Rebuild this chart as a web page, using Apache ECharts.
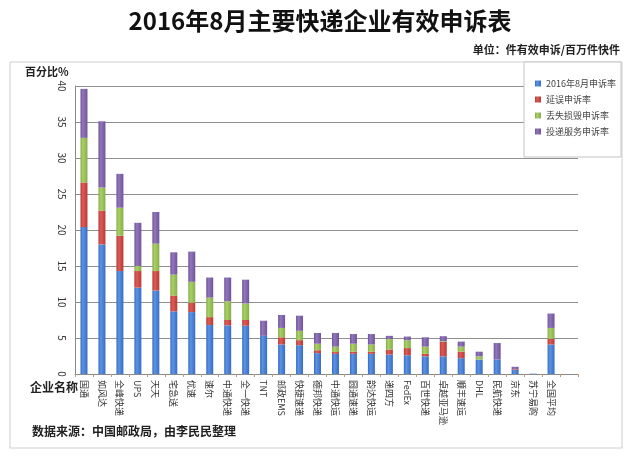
<!DOCTYPE html>
<html>
<head>
<meta charset="utf-8">
<script src="https://cdn.jsdelivr.net/npm/echarts@6/dist/echarts.min.js"></script>
<style>html,body{margin:0;padding:0;background:#fff;}#c{width:640px;height:458px;}</style>
</head>
<body>
<div id="c"></div>
<script>
var categories = ['国通','如风达','全峰快递','UPS','天天','宅急送','优速','速尔','中通快递','全一快递','TNT','邮政EMS','快捷速递','德邦快递','中通快运','圆通速递','韵达快运','递四方','FedEx','百世快递','卓越亚马逊','顺丰速运','DHL','民航快递','京东','苏宁易购','全国平均'];
var seriesNames = ['2016年8月申诉率','延误申诉率','丢失损毁申诉率','投递服务申诉率'];
var rateMain = [20.4,18.0,14.3,12.0,11.6,8.7,8.6,6.8,6.75,6.7,5.3,4.1,4.0,2.9,2.8,2.8,2.8,2.7,2.6,2.45,2.45,2.2,2.0,2.0,0.6,0.05,4.1];
var rateDelay = [6.2,4.7,4.9,2.3,2.7,2.2,1.3,1.1,0.75,0.8,0,1.0,0.7,0.4,0.25,0.3,0.3,0.7,1.0,0.35,2.0,0.9,0,0,0.1,0,0.8];
var rateLoss = [6.2,3.2,3.9,0.7,3.8,2.9,2.9,2.7,2.6,2.3,0,1.3,1.3,0.9,0.75,1.1,1.0,1.45,1.1,1.0,0.1,0.7,0.45,0,0,0,1.5];
var rateDelivery = [6.8,9.2,4.7,6.0,4.4,3.1,4.2,2.8,3.3,3.3,2.1,1.8,2.1,1.5,1.9,1.35,1.45,0.45,0.5,1.3,0.7,0.7,0.65,2.3,0.3,0,2.0];
var yTicks = [0,5,10,15,20,25,30,35,40];

var colors = ['#4a80d4','#cf4a46','#9bc35a','#8466ad'];
function grad(c1, c2){
  return new echarts.graphic.LinearGradient(0,0,1,0,[{offset:0,color:c2},{offset:0.35,color:c1},{offset:1,color:c2}]);
}
var fills = [grad('#5a93e6','#3a6cc0'), grad('#e05a55','#b43c38'), grad('#a8d065','#88ad4a'), grad('#9276bd','#6e5498')];
var dataArr = [rateMain, rateDelay, rateLoss, rateDelivery];

var chart = echarts.init(document.getElementById('c'), null, {renderer:'canvas'});
var font = '"Noto Sans CJK SC", "Noto Sans", sans-serif';
var series = seriesNames.map(function(n,i){
  return {
    name:n, type:'bar', stack:'total', barWidth:7,
    data: dataArr[i],
    itemStyle:{color:fills[i]},
    emphasis:{disabled:true}
  };
});
chart.setOption({
  animation:false,
  textStyle:{fontFamily:font},
  color: colors,
  title:{text:'2016年8月主要快递企业有效申诉表', left:'center', top:4,
    textStyle:{fontSize:24, fontWeight:'bold', color:'#111', fontFamily:font}},
  graphic:[
    {type:'rect', z:-10, shape:{x:10,y:62,width:612,height:386}, style:{fill:'#fff', stroke:'#cfcfcf', lineWidth:1}},
    {type:'text', right:20, top:44, style:{text:'单位：件有效申诉/百万件快件', font:'bold 11px '+font, fill:'#222'}},
    {type:'text', left:25, top:66, style:{text:'百分比%', font:'bold 11px '+font, fill:'#222'}},
    {type:'text', left:30, top:381, style:{text:'企业名称', font:'bold 12px '+font, fill:'#222'}},
    {type:'text', left:32, top:425, style:{text:'数据来源：中国邮政局，由李民民整理', font:'bold 12px '+font, fill:'#222'}},
    {type:'rect', z:50, shape:{x:524,y:62,width:97,height:95}, style:{fill:'#fff', stroke:'#c4c4c4', lineWidth:1}}
  ],
  legend:{
    data: seriesNames, orient:'vertical', left:530, top:74, z:60,
    itemWidth:6, itemHeight:6, itemGap:7, icon:'rect',
    textStyle:{fontSize:9, color:'#444', fontFamily:font}
  },
  grid:{left:75, right:62, top:86, bottom:84, containLabel:false},
  xAxis:{
    type:'category', data:categories, max:27,
    axisLine:{lineStyle:{color:'#8a8a8a'}},
    axisTick:{show:true, length:3, lineStyle:{color:'#c79a6a'}},
    axisLabel:{rotate:-90, interval:0, fontSize:9, color:'#333', margin:6, fontFamily:font}
  },
  yAxis:{
    type:'value', min:yTicks[0], max:yTicks[yTicks.length-1], interval:5,
    axisLine:{show:true, lineStyle:{color:'#8a8a8a'}},
    axisTick:{show:false},
    splitLine:{lineStyle:{color:'#8f8f8f', width:1}},
    axisLabel:{rotate:-90, fontSize:10, color:'#333', margin:8, fontFamily:font}
  },
  series: series
});
</script>
</body>
</html>
